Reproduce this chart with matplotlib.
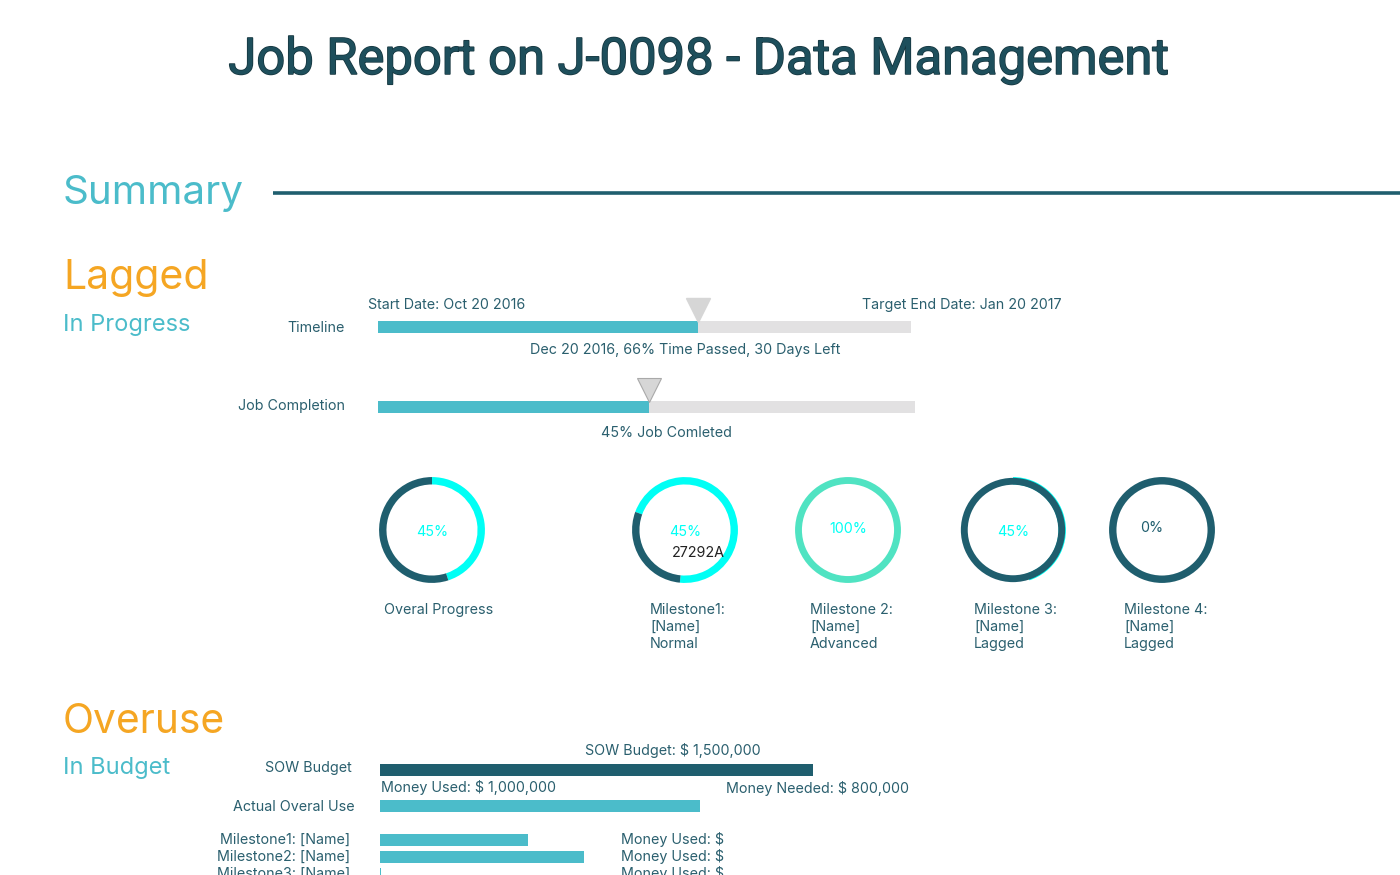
import matplotlib
matplotlib.use("Agg")
import matplotlib.pyplot as plt
import matplotlib.patheffects as pe

# ---------------- data ----------------
title = "Job Report on J-0098 - Data Management"
status_schedule = "Lagged"
status_progress = "In Progress"
status_budget = "Overuse"
status_budget_sub = "In Budget"

start_label = "Start Date: Oct 20 2016"
end_label = "Target End Date: Jan 20 2017"
time_label = "Dec 20 2016, 66% Time Passed, 30 Days Left"
time_fraction = 0.60           # filled share of the timeline bar
completion_label = "45% Job Comleted"
completion_fraction = 0.505    # filled share of the completion bar

ring_names = ["Overal Progress", "Milestone1:\n[Name]\nNormal", "Milestone 2:\n[Name]\nAdvanced",
              "Milestone 3:\n[Name]\nLagged", "Milestone 4:\n[Name]\nLagged"]
ring_pct_text = ["45%", "45%", "100%", "45%", "0%"]
ring_done = [45, 71, 100, 45, 0]    # arc share drawn in the "done" colour

budget_total = 1_500_000
budget_rows = ["SOW Budget", "Actual Overal Use", "Milestone1: [Name]", "Milestone2: [Name]", "Milestone3: [Name]"]
budget_values = [1_500_000, 1_108_000, 513_000, 707_000, 5_000]
budget_top_label = "SOW Budget: $ 1,500,000"
money_used_label = "Money Used: $ 1,000,000"
money_needed_label = "Money Needed: $ 800,000"
milestone_money = ["Money Used: $", "Money Used: $", "Money Used: $"]

# ---------------- style ----------------
W, H = 1400, 875
DARK = "#1F5E6E"
TXT = "#2A5F6E"
TEAL = "#4BBCCA"
GRAY = "#E2E1E2"
ORANGE = "#F5A623"
CYAN = "#00FFF5"
AQUA = "#50E3C2"
FONT = ["Inter", "DejaVu Sans"]
SMALL = 10.3
plt.rcParams["font.family"] = FONT

fig = plt.figure(figsize=(W / 100, H / 100), dpi=100)
fig.patch.set_facecolor("white")


def fx(x):
    return x / W


def fy(y):
    return 1 - y / H


def text(x, y, s, size=SMALL, color=TXT, ha="left", va="baseline", **kw):
    return fig.text(fx(x), fy(y), s, fontsize=size, color=color, ha=ha, va=va, **kw)


def axes_px(x0, y0, x1, y1):
    ax = fig.add_axes([fx(x0), fy(y1), (x1 - x0) / W, (y1 - y0) / H])
    ax.set_axis_off()
    return ax


# Title
t = text(699, 74, title, size=36.5, color="#1E4F5C", ha="center", family=["Roboto", "DejaVu Sans"])
t.set_path_effects([pe.withStroke(linewidth=1.1, foreground="#16363F")])

# Summary header with rule
text(63, 204, "Summary", size=29, color=TEAL)
line_ax = axes_px(273, 188, 1400, 198)
line_ax.plot([0, 1], [0.5, 0.5], color=DARK, lw=2.6, solid_capstyle="butt")
line_ax.set_xlim(0, 1)
line_ax.set_ylim(0, 1)

# Status texts
text(63, 289, status_schedule, size=29.5, color=ORANGE)
text(63, 331, status_progress, size=17, color=TEAL)
text(63, 733, status_budget, size=29.3, color=ORANGE)
text(63, 774, status_budget_sub, size=17, color=TEAL)

# Timeline bar (axes: 1 data unit = 1 pixel vertically)
text(345, 332, "Timeline", ha="right")
text(368, 309, start_label)
text(1061, 309, end_label, ha="right")
ax_t = axes_px(378, 296, 911, 337)
ax_t.set_xlim(0, 1)
ax_t.set_ylim(0, 41)
ax_t.barh([10], [1], height=12, color=GRAY, left=0)
ax_t.barh([10], [time_fraction], height=12, color=TEAL, left=0)
ax_t.plot([time_fraction], [27], marker="v", markersize=17, color="#D6D6D6",
          markeredgecolor="#D6D6D6", clip_on=False)
text(685, 354, time_label, ha="center")

# Job completion bar
text(345, 410, "Job Completion", ha="right")
ax_c = axes_px(378, 376, 915, 417)
ax_c.set_xlim(0, 1)
ax_c.set_ylim(0, 41)
ax_c.barh([10], [1], height=12, color=GRAY)
ax_c.barh([10], [completion_fraction], height=12, color=TEAL)
ax_c.plot([completion_fraction], [27], marker="v", markersize=17, color="#D6D6D6",
          markeredgecolor="#A9A9A9", markeredgewidth=0.8, clip_on=False)
text(666, 437, completion_label, ha="center")

# Rings
ring_cx = [432, 685, 848, 1013, 1162]
ring_done_col = [CYAN, CYAN, AQUA, CYAN, CYAN]
ring_rest_col = [DARK, DARK, AQUA, DARK, DARK]
ring_start = [90, 160, 90, 90, 90]
ring_r = 54
for i, cx in enumerate(ring_cx):
    ax = axes_px(cx - ring_r, 530 - ring_r, cx + ring_r, 530 + ring_r)
    done = ring_done[i]
    if i == 3:
        # thin fringe of progress under the dark ring
        ax.pie([done, 100 - done], colors=[CYAN, "none"], startangle=90, counterclock=False,
               radius=1.0, wedgeprops=dict(width=0.14, linewidth=0))
        ax.pie([100], colors=[DARK], radius=0.985, wedgeprops=dict(width=0.13, linewidth=0))
    elif done <= 0:
        ax.pie([100], colors=[ring_rest_col[i]], radius=1.0, wedgeprops=dict(width=0.14, linewidth=0))
    elif done >= 100:
        ax.pie([100], colors=[ring_done_col[i]], radius=1.0, wedgeprops=dict(width=0.13, linewidth=0))
    else:
        ax.pie([done, 100 - done], colors=[ring_done_col[i], ring_rest_col[i]],
               startangle=ring_start[i], counterclock=False, radius=1.0,
               wedgeprops=dict(width=0.14, linewidth=0))
    ax.set_xlim(-1.02, 1.02)
    ax.set_ylim(-1.02, 1.02)
    ax.set_aspect("equal")

text(432, 536, ring_pct_text[0], color=CYAN, ha="center")
text(685, 536, ring_pct_text[1], color=CYAN, ha="center")
text(672, 557, "27292A", color="#222222")
text(848, 533, ring_pct_text[2], color=CYAN, ha="center")
text(1013, 536, ring_pct_text[3], color=CYAN, ha="center")
text(1152, 532, ring_pct_text[4], color=DARK, ha="center")

ring_label_x = [384, 650, 810, 974, 1124]
for x, name in zip(ring_label_x, ring_names):
    text(x, 603, name, va="top", linespacing=1.28)

# Budget section
text(673, 755, budget_top_label, ha="center")
text(381, 792, money_used_label)
text(909, 793, money_needed_label, ha="right")
row_y = [770, 806, 840, 857, 874]
row_label_dy = [2, 5, 4, 4, 4]
row_label_x = [352, 355, 350, 350, 350]
row_colors = [DARK, TEAL, TEAL, TEAL, TEAL]
ax_b = axes_px(380, 740, 813, 875)
ax_b.set_xlim(0, budget_total)
ax_b.set_ylim(875, 740)
ax_b.barh(row_y, budget_values, height=12, color=row_colors, clip_on=False)
for y, lab, lx, dy in zip(row_y, budget_rows, row_label_x, row_label_dy):
    text(lx, y + dy, lab, ha="right")
for y, lab in zip(row_y[2:], milestone_money):
    text(621, y + 4, lab)

fig.savefig("out.png", dpi=100, facecolor="white")
